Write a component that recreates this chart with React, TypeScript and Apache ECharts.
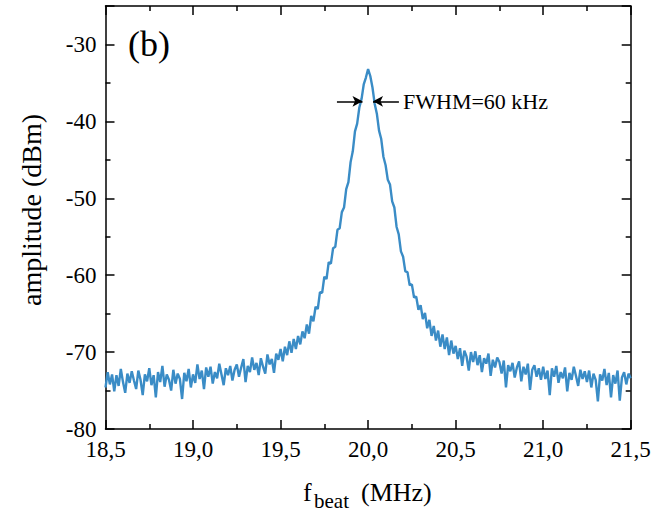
import { useEffect, useRef } from "react";
import * as echarts from "echarts";

// Sweep grid of the spectrum analyser (MHz)
const F_START = 18.5;
const F_STEP = 0.0125;

const amplitude: number[] = [
  // 18.5 - 18.7375
  -74.6, -72.6, -74.2, -72.9, -75.1, -73.0, -74.4, -72.2, -73.9, -75.3,
  -72.8, -74.0, -72.5, -73.7, -74.8, -72.4, -73.6, -75.6, -72.9, -73.8,
  // 18.75 - 18.9875
  -72.1, -74.3, -73.0, -75.9, -72.6, -73.9, -71.8, -74.5, -72.9, -73.6,
  -75.0, -72.3, -74.1, -72.8, -73.5, -76.1, -72.7, -73.8, -72.2, -74.6,
  // 19.0 - 19.2375
  -72.9, -74.0, -71.6, -73.5, -72.4, -74.8, -72.0, -73.2, -71.9, -74.1,
  -72.6, -73.4, -71.5, -72.9, -74.3, -72.1, -73.0, -71.8, -73.7, -72.3,
  // 19.25 - 19.4875
  -71.6, -73.2, -72.0, -70.9, -73.9, -71.8, -72.6, -70.7, -72.3, -71.4,
  -73.0, -70.8, -71.9, -72.8, -70.3, -71.6, -70.9, -72.7, -70.2, -71.0,
  // 19.5 - 19.7375
  -69.6, -71.2, -69.3, -70.4, -68.6, -70.1, -68.3, -69.6, -67.9, -69.0,
  -67.3, -68.2, -66.4, -67.6, -65.3, -66.0, -64.1, -64.4, -62.2, -62.3,
  // 19.75 - 19.9875
  -60.2, -60.5, -58.3, -58.5, -56.5, -56.3, -54.1, -53.9, -51.8, -51.2,
  -48.8, -47.9, -45.3, -43.9, -41.3, -40.3, -38.2, -37.1, -35.2, -34.3,
  // 20.0 - 20.2375
  -33.2, -34.1, -35.6, -37.7, -39.0, -41.2, -42.3, -44.6, -45.7, -47.6,
  -48.2, -50.4, -51.2, -53.7, -54.7, -56.9, -57.6, -59.5, -59.6, -61.3,
  // 20.25 - 20.4875
  -61.2, -62.9, -62.8, -64.5, -63.9, -65.7, -64.9, -66.9, -65.8, -67.9,
  -66.6, -68.5, -67.2, -69.3, -67.7, -69.6, -68.1, -70.4, -68.5, -70.2,
  // 20.5 - 20.7375
  -69.2, -70.9, -69.5, -71.8, -69.8, -70.6, -72.4, -70.0, -71.3, -69.9,
  -71.7, -70.4, -72.6, -70.8, -71.5, -70.2, -73.1, -71.0, -72.0, -70.7,
  // 20.75 - 20.9875
  -71.3, -72.8, -71.1, -74.6, -71.7, -72.5, -71.4, -73.3, -72.0, -71.2,
  -73.8, -71.9, -72.9, -71.5, -74.9, -72.3, -71.7, -73.2, -72.1, -73.6,
  // 21.0 - 21.2375
  -71.9, -73.5, -72.4, -75.6, -72.1, -73.2, -71.8, -74.0, -72.6, -73.4,
  -72.0, -75.1, -72.7, -73.6, -71.9, -73.1, -74.4, -72.3, -73.5, -72.5,
  // 21.25 - 21.4875
  -73.9, -72.4, -74.6, -72.8, -73.6, -76.4, -72.9, -73.7, -72.2, -74.3,
  -72.7, -75.9, -73.0, -74.1, -72.4, -76.3, -73.3, -72.6, -74.2, -72.8,
  // 21.5
  -73.4,
];

const xTickLabels = ["18,5", "19,0", "19,5", "20,0", "20,5", "21,0", "21,5"];
const yTickLabels = ["-80", "-70", "-60", "-50", "-40", "-30"];

// FWHM marker (arrows pointing at the half-maximum level)
const fwhmLevel = -37.4;
const fwhmLeftArrow = [19.822, 19.968];
const fwhmRightArrow = [20.028, 20.176];
const fwhmText = "FWHM=60 kHz";

const X_MIN = 18.5;
const X_MAX = 21.5;
const X_INT = 0.5;
const Y_MIN = -80;
const Y_MAX = -25;
const Y_INT = 10;

const SERIF = "'Liberation Serif', 'Times New Roman', serif";

export default function App() {
  const ref = useRef<HTMLDivElement>(null);

  useEffect(() => {
    if (!ref.current) return;
    const chart = echarts.init(ref.current, undefined, { renderer: "svg" });

    const data = amplitude.map((a, i) => [F_START + i * F_STEP, a]);

    const axisLine = { show: true, lineStyle: { color: "#000", width: 1.5 } };
    const axisTick = { show: true, inside: true, length: 9, lineStyle: { color: "#000", width: 1.5 } };
    const minorTick = { show: true, splitNumber: 2, length: 5, lineStyle: { color: "#000", width: 1.5 } };

    const xFmt = (v: number) => {
      const i = Math.round((v - X_MIN) / X_INT);
      return xTickLabels[i] ?? "";
    };
    const yFmt = (v: number) => {
      if (v > -30 + 1e-6) return "";
      const i = Math.round((v - Y_MIN) / Y_INT);
      return yTickLabels[i] ?? "";
    };

    const option: any = {
      animation: false,
      backgroundColor: "#fff",
      grid: { left: 105.5, right: 24.3, top: 6, bottom: 83, containLabel: false },
      xAxis: [
        {
          type: "value",
          position: "bottom",
          min: X_MIN,
          max: X_MAX,
          interval: X_INT,
          axisLine,
          axisTick,
          minorTick,
          splitLine: { show: false },
          axisLabel: {
            formatter: xFmt,
            margin: 9,
            fontSize: 23,
            fontFamily: SERIF,
            color: "#000",
          },
        },
        {
          type: "value",
          position: "top",
          min: X_MIN,
          max: X_MAX,
          interval: X_INT,
          axisLine,
          axisTick,
          minorTick,
          splitLine: { show: false },
          axisLabel: { show: false },
        },
      ],
      yAxis: [
        {
          type: "value",
          position: "left",
          min: Y_MIN,
          max: Y_MAX,
          interval: Y_INT,
          axisLine,
          axisTick,
          minorTick,
          splitLine: { show: false },
          axisLabel: {
            formatter: yFmt,
            margin: 9,
            fontSize: 23,
            fontFamily: SERIF,
            color: "#000",
          },
        },
        {
          type: "value",
          position: "right",
          min: Y_MIN,
          max: Y_MAX,
          interval: Y_INT,
          axisLine,
          axisTick,
          minorTick,
          splitLine: { show: false },
          axisLabel: { show: false },
        },
      ],
      series: [
        {
          type: "line",
          xAxisIndex: 0,
          yAxisIndex: 0,
          data,
          showSymbol: false,
          symbol: "none",
          lineStyle: { color: "#3a8cc6", width: 2.4, join: "bevel" },
          clip: true,
          z: 2,
          markLine: {
            silent: true,
            animation: false,
            lineStyle: { color: "#000", width: 1.5, type: "solid" },
            symbolSize: [8, 10],
            data: [
              [
                { coord: [fwhmLeftArrow[0], fwhmLevel], symbol: "none" },
                { coord: [fwhmLeftArrow[1], fwhmLevel], symbol: "arrow" },
              ],
              [
                { coord: [fwhmRightArrow[0], fwhmLevel], symbol: "arrow" },
                {
                  coord: [fwhmRightArrow[1], fwhmLevel],
                  symbol: "none",
                },
              ],
            ],
            label: { show: false },
          },
        },
      ],
      graphic: [
        {
          type: "text",
          x: 128,
          y: 26,
          style: {
            text: "(b)",
            font: `36px ${SERIF}`,
            fill: "#000",
          },
        },
        {
          type: "text",
          x: 403,
          y: 101,
          style: {
            text: fwhmText,
            font: `22px ${SERIF}`,
            fill: "#000",
            verticalAlign: "middle",
          },
        },
        {
          type: "text",
          x: 31,
          y: 210,
          rotation: Math.PI / 2,
          style: {
            text: "amplitude (dBm)",
            font: `28px ${SERIF}`,
            fill: "#000",
            align: "center",
            verticalAlign: "middle",
          },
        },
        {
          type: "text",
          x: 303,
          y: 492,
          style: { text: "f", font: `26px ${SERIF}`, fill: "#000", verticalAlign: "middle" },
        },
        {
          type: "text",
          x: 314,
          y: 501,
          style: { text: "beat", font: `21px ${SERIF}`, fill: "#000", verticalAlign: "middle" },
        },
        {
          type: "text",
          x: 361,
          y: 492,
          style: { text: "(MHz)", font: `26px ${SERIF}`, fill: "#000", verticalAlign: "middle" },
        },
      ],
    };

    chart.setOption(option);
    return () => chart.dispose();
  }, []);

  return (
    <div
      ref={ref}
      style={{ position: "fixed", left: 0, top: 0, width: 655, height: 512, background: "#fff" }}
    />
  );
}
